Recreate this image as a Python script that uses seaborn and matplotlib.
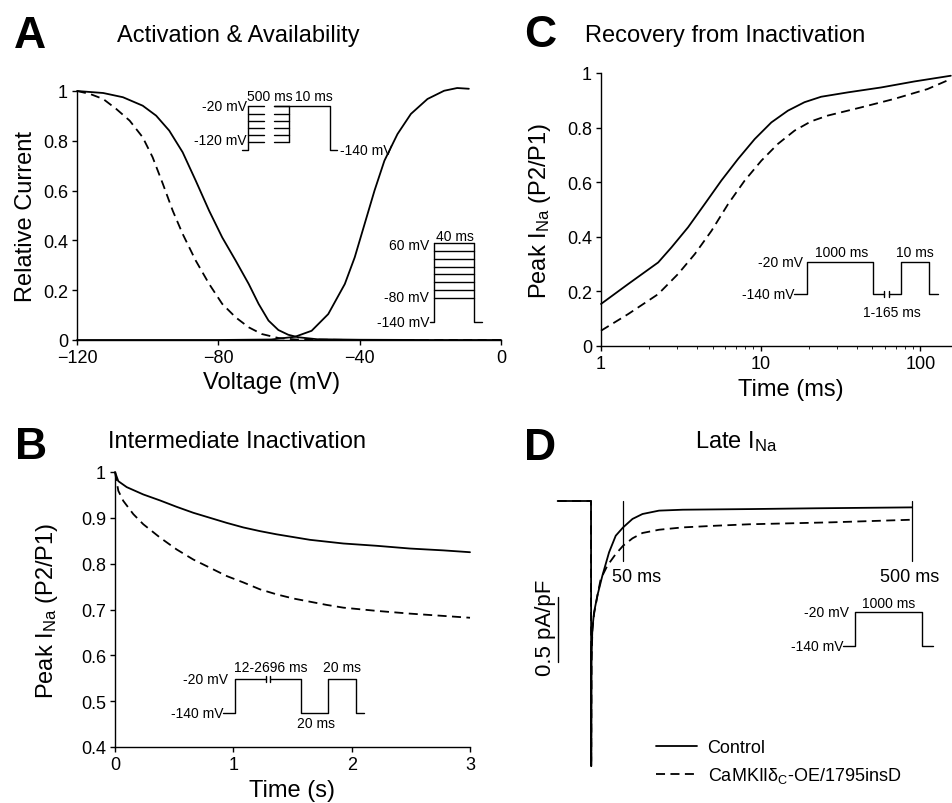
import matplotlib
matplotlib.use("Agg")
import numpy as np
import pandas as pd
import matplotlib.pyplot as plt
import seaborn as sns

sns.set_style("ticks")
plt.rcParams['font.family'] = ['Liberation Sans', 'DejaVu Sans']
plt.rcParams['mathtext.default'] = 'regular'
plt.rcParams.update({
    'axes.edgecolor': 'black', 'axes.linewidth': 1.0,
    'text.color': 'black', 'axes.labelcolor': 'black',
    'xtick.color': 'black', 'ytick.color': 'black',
    'xtick.major.size': 3.5, 'ytick.major.size': 3.5,
    'xtick.minor.size': 2.2, 'xtick.major.width': 1.0, 'ytick.major.width': 1.0,
    'xtick.major.pad': 3, 'ytick.major.pad': 3,
})

# ---- A: activation & availability (relative current vs voltage)
avail_ctrl_v = [-120, -112.6, -107, -101.4, -97.6, -93.9, -90.1, -86.4, -82.6, -78.9,
                -75.1, -71.4, -68.6, -65.8, -63, -60.2, -57.4, -52, -40, -20, 0]
avail_ctrl_i = [1.0, 0.992, 0.975, 0.941, 0.901, 0.841, 0.754, 0.640, 0.519, 0.412,
                0.319, 0.225, 0.145, 0.078, 0.040, 0.021, 0.011, 0.003, 0.001, 0.0, 0.0]
avail_camk_v = [-120, -116.3, -112.6, -108.9, -105.1, -101.4, -98.6, -95.7, -92.9, -90.1,
                -86.4, -82.6, -78.9, -75.1, -71.4, -67.7, -63, -58, -40, 0]
avail_camk_i = [1.0, 0.988, 0.968, 0.928, 0.881, 0.814, 0.734, 0.627, 0.519, 0.426,
                0.319, 0.225, 0.145, 0.091, 0.051, 0.024, 0.008, 0.002, 0.0, 0.0]
act_v = [-120, -80, -65, -58.3, -53.6, -48.9, -44.2, -41.4, -38.6, -35.8, -33.0,
         -29.3, -25.5, -20.8, -16.1, -12.4, -9.1]
act_i = [0, 0, 0.002, 0.013, 0.037, 0.104, 0.225, 0.332, 0.466, 0.600, 0.720,
         0.827, 0.908, 0.968, 1.001, 1.012, 1.009]

# ---- C: recovery from inactivation (log time, ms)
rec_t_ctrl = [1, 1.48, 2.28, 2.76, 3.51, 4.46, 5.67, 7.21, 9.17, 11.66, 14.8, 18.8,
              23.9, 35.1, 56.7, 91.6, 155]
rec_ctrl = [0.154, 0.227, 0.306, 0.361, 0.435, 0.520, 0.606, 0.685, 0.758, 0.819,
            0.862, 0.893, 0.913, 0.929, 0.947, 0.969, 0.990]
rec_t_camk = [1, 1.48, 2.28, 3.04, 3.87, 4.92, 6.25, 7.94, 10.1, 12.8, 16.3, 20.7,
              26.3, 42.5, 68.5, 110.6, 155]
rec_camk = [0.056, 0.117, 0.190, 0.264, 0.337, 0.422, 0.520, 0.606, 0.679, 0.740,
            0.789, 0.823, 0.844, 0.874, 0.905, 0.941, 0.978]

# ---- B: intermediate inactivation (time, s)
inter_t_ctrl = [0, 0.028, 0.099, 0.239, 0.380, 0.521, 0.662, 0.803, 0.944, 1.085,
                1.225, 1.366, 1.507, 1.648, 1.789, 1.930, 2.211, 2.493, 2.775, 3.0]
inter_ctrl = [1.0, 0.980, 0.967, 0.951, 0.938, 0.924, 0.911, 0.900, 0.889, 0.879,
              0.871, 0.864, 0.858, 0.852, 0.848, 0.844, 0.839, 0.833, 0.829, 0.825]
inter_t_camk = [0, 0.028, 0.07, 0.155, 0.239, 0.380, 0.521, 0.662, 0.803, 0.944, 1.085,
                1.225, 1.366, 1.507, 1.648, 1.789, 1.930, 2.211, 2.493, 2.775, 3.0]
inter_camk = [1.0, 0.959, 0.937, 0.908, 0.886, 0.857, 0.831, 0.809, 0.791, 0.773, 0.759,
              0.744, 0.733, 0.724, 0.717, 0.710, 0.704, 0.697, 0.691, 0.686, 0.682]

# ---- D: late INa trace (time ms, current pA/pF)
late_t_ctrl = [-52, 0, 0.3, 0.8, 2.1, 4.7, 9.9, 17.7, 28.1, 38.5, 50, 64.6, 80.2,
               106, 143, 250, 350, 500]
late_ctrl = [0, 0, -2.04, -1.2, -0.985, -0.857, -0.728, -0.574, -0.395, -0.267,
             -0.203, -0.138, -0.100, -0.074, -0.067, -0.062, -0.056, -0.049]
late_t_camk = [-52, 0, 0.3, 0.8, 2.1, 4.7, 9.9, 15.1, 25.5, 38.5, 50, 64.6, 80.2,
               106, 143, 195, 247, 375, 500]
late_camk = [0, 0, -2.04, -1.25, -1.0, -0.87, -0.73, -0.60, -0.497, -0.408, -0.344,
             -0.287, -0.246, -0.221, -0.203, -0.190, -0.179, -0.164, -0.144]
late_marks_ms = [50, 500]
scale_bar = 0.5  # pA/pF

# ---- voltage protocol sketches (schematic time units, mV)
protA1_family = [-20, -40, -60, -80, -100, -120]
protA2_family = [60, 40, 20, 0, -20, -40, -60, -80]
protB_t = [[0, 3.7, 3.7, 13.6], [14.8, 24.7, 24.7, 33.3, 33.3, 42.0, 42.0, 44.7]]
protB_v = [[-140, -140, -20, -20], [-20, -20, -140, -140, -20, -20, -140, -140]]
protC_t = [[0, 3.9, 3.9, 24.9, 24.9, 28.6], [30.1, 33.8, 33.8, 42.9, 42.9, 45.7]]
protC_v = [[-140, -140, -20, -20, -140, -140], [-140, -140, -20, -20, -140, -140]]
protD_t = [0, 3.7, 3.7, 24.9, 24.9, 28.4]
protD_v = [-140, -140, -20, -20, -140, -140]

W, H = 953, 804
U = 3.15  # px per schematic unit
fig = plt.figure(figsize=(W / 100, H / 100), dpi=100)


def px_axes(l, t, r, b):
    return fig.add_axes([l / W, 1 - b / H, (r - l) / W, (b - t) / H])


def curve(ax, x, y, dashed=False, **kw):
    ls = (0, (5, 3)) if dashed else '-'
    sns.lineplot(x=x, y=y, ax=ax, color='black', lw=1.3, linestyle=ls,
                 estimator=None, sort=False, clip_on=False, **kw)
    return ax.lines[-1]


def proto_axes(left, top, bot, units, vtop, vbot):
    a = px_axes(left, top, left + units * U, bot)
    a.set_xlim(0, units)
    a.set_ylim(vbot, vtop)
    a.axis('off')
    return a


def seg(a, x, y):
    a.plot(x, y, color='black', lw=1.0, clip_on=False)


TICK = 13
LAB = 17
INS = 10

# ================= A
axA = px_axes(77, 92, 501, 341)
curve(axA, avail_ctrl_v, avail_ctrl_i)
curve(axA, avail_camk_v, avail_camk_i, dashed=True)
curve(axA, act_v, act_i)
axA.set_xlim(-120, 0)
axA.set_ylim(0, 1)
axA.set_xticks([-120, -80, -40, 0])
axA.set_yticks([0, 0.2, 0.4, 0.6, 0.8, 1.0])
axA.set_yticklabels(['0', '0.2', '0.4', '0.6', '0.8', '1'])
axA.tick_params(labelsize=TICK)
axA.set_xlabel('Voltage (mV)', fontsize=LAB)
axA.set_ylabel('Relative Current', fontsize=LAB)
axA.xaxis.set_label_coords(0.46, -0.125)
axA.yaxis.set_label_coords(-0.095, 0.5)
sns.despine(ax=axA)

# availability protocol
pa = proto_axes(242, 107.3, 150.7, 30.1, -20, -140)
seg(pa, [0, 2, 2], [-140, -140, -20])
for v in protA1_family:
    seg(pa, [2, 7], [v, v])
    seg(pa, [10.2, 15], [v, v])
seg(pa, [15, 15], [protA1_family[-1], protA1_family[0]])
seg(pa, [10.2, 27.9, 27.9, 30.1], [-20, -20, -140, -140])
pa.text(1.6, -20, '-20 mV', ha='right', va='center', fontsize=INS)
pa.text(1.6, -113, '-120 mV', ha='right', va='center', fontsize=INS)
pa.text(8.9, 9, '500 ms', ha='center', va='center', fontsize=INS)
pa.text(22.9, 9, '10 ms', ha='center', va='center', fontsize=INS)
pa.text(31.1, -140, '-140 mV', ha='left', va='center', fontsize=INS)

# activation protocol
pb = proto_axes(430, 244, 322.7, 16.4, 60, -140)
seg(pb, [0, 1.4, 1.4], [-140, -140, 60])
for v in protA2_family:
    seg(pb, [1.4, 14.0], [v, v])
seg(pb, [14.0, 14.0, 16.4], [60, -140, -140])
pb.text(-0.2, 54, '60 mV', ha='right', va='center', fontsize=INS)
pb.text(-0.2, -78, '-80 mV', ha='right', va='center', fontsize=INS)
pb.text(-0.2, -140, '-140 mV', ha='right', va='center', fontsize=INS)
pb.text(8.0, 78, '40 ms', ha='center', va='center', fontsize=INS)

# ================= C
axC = px_axes(601, 74, 953, 347)
curve(axC, rec_t_ctrl, rec_ctrl)
curve(axC, rec_t_camk, rec_camk, dashed=True)
axC.set_xscale('log')
axC.set_xlim(1, 160)
axC.set_ylim(0, 1)
axC.set_xticks([1, 10, 100])
axC.set_xticklabels(['1', '10', '100'])
axC.set_yticks([0, 0.2, 0.4, 0.6, 0.8, 1.0])
axC.set_yticklabels(['0', '0.2', '0.4', '0.6', '0.8', '1'])
axC.tick_params(labelsize=TICK)
axC.set_xlabel('Time (ms)', fontsize=LAB)
axC.set_ylabel(r'Peak I$_{Na}$ (P2/P1)', fontsize=LAB)
axC.xaxis.set_label_coords(0.538, -0.118)
axC.yaxis.set_label_coords(-0.135, 0.5)
sns.despine(ax=axC)

pc = proto_axes(794.3, 263.3, 295, 45.7, -20, -140)
for tt, vv in zip(protC_t, protC_v):
    seg(pc, tt, vv)
seg(pc, [28.6, 28.6], [-152, -128])
seg(pc, [30.1, 30.1], [-152, -128])
pc.text(2.9, -20, '-20 mV', ha='right', va='center', fontsize=INS)
pc.text(0, -140, '-140 mV', ha='right', va='center', fontsize=INS)
pc.text(15.0, 18, '1000 ms', ha='center', va='center', fontsize=INS)
pc.text(38.3, 18, '10 ms', ha='center', va='center', fontsize=INS)
pc.text(30.9, -209, '1-165 ms', ha='center', va='center', fontsize=INS)

# ================= B
axB = px_axes(115, 473, 470, 748)
curve(axB, inter_t_ctrl, inter_ctrl)
curve(axB, inter_t_camk, inter_camk, dashed=True)
axB.set_xlim(0, 3)
axB.set_ylim(0.4, 1)
axB.set_xticks([0, 1, 2, 3])
axB.set_yticks([0.4, 0.5, 0.6, 0.7, 0.8, 0.9, 1.0])
axB.set_yticklabels(['0.4', '0.5', '0.6', '0.7', '0.8', '0.9', '1'])
axB.tick_params(labelsize=TICK)
axB.set_xlabel('Time (s)', fontsize=LAB)
axB.set_ylabel(r'Peak I$_{Na}$ (P2/P1)', fontsize=LAB)
axB.yaxis.set_label_coords(-0.155, 0.5)
sns.despine(ax=axB)

pB = proto_axes(223.3, 680, 713.7, 44.7, -20, -140)
for tt, vv in zip(protB_t, protB_v):
    seg(pB, tt, vv)
seg(pB, [13.6, 13.6], [-32, -8])
seg(pB, [14.8, 14.8], [-32, -8])
pB.text(1.6, -20, '-20 mV', ha='right', va='center', fontsize=INS)
pB.text(0, -140, '-140 mV', ha='right', va='center', fontsize=INS)
pB.text(15.1, 21, '12-2696 ms', ha='center', va='center', fontsize=INS)
pB.text(37.8, 21, '20 ms', ha='center', va='center', fontsize=INS)
pB.text(29.3, -178, '20 ms', ha='center', va='center', fontsize=INS)

# ================= D
axD = px_axes(552.5, 450, 950.5, 788)
h1 = curve(axD, late_t_ctrl, late_ctrl)
h2 = curve(axD, late_t_camk, late_camk, dashed=True)
axD.set_xlim(-60, 560)
axD.set_ylim(-2.2, 0.4)
axD.axis('off')
for m in late_marks_ms:
    axD.plot([m, m], [0, -0.46], color='black', lw=0.9)
axD.text(71, -0.58, '50 ms', ha='center', va='center', fontsize=TICK)
axD.text(497, -0.58, '500 ms', ha='center', va='center', fontsize=TICK)
axD.plot([-51.4, -51.4], [-0.74, -0.74 - scale_bar], color='black', lw=1.0)
axD.text(-71, -0.74 - scale_bar / 2 + 0.02, '0.5 pA/pF', rotation=90, ha='center',
         va='center', fontsize=16)
axD.legend([h1, h2], ['Control', r'CaMKII$\delta_C$-OE/1795insD'],
           loc='center left', bbox_to_anchor=(655.7 / W, 1 - 763.4 / H),
           bbox_transform=fig.transFigure, frameon=False, fontsize=TICK,
           handlelength=2.27, handletextpad=0.6, labelspacing=0.5,
           borderpad=0, borderaxespad=0)

pd_ = proto_axes(843.3, 613.3, 647.3, 28.4, -20, -140)
seg(pd_, protD_t, protD_v)
pd_.text(1.9, -20, '-20 mV', ha='right', va='center', fontsize=INS)
pd_.text(0, -140, '-140 mV', ha='right', va='center', fontsize=INS)
pd_.text(14.4, 14, '1000 ms', ha='center', va='center', fontsize=INS)

# ================= titles and panel letters
def ftxt(x, y, s, **kw):
    fig.text(x / W, 1 - y / H, s, **kw)


ftxt(30, 48, 'A', fontsize=32, fontweight='bold', ha='center', va='baseline')
ftxt(238, 41.7, 'Activation & Availability', fontsize=LAB, ha='center', va='baseline')
ftxt(540, 46.7, 'C', fontsize=32, fontweight='bold', ha='center', va='baseline')
ftxt(725.5, 41.7, 'Recovery from Inactivation', fontsize=LAB, ha='center', va='baseline')
ftxt(31, 459, 'B', fontsize=32, fontweight='bold', ha='center', va='baseline')
ftxt(237, 448.3, 'Intermediate Inactivation', fontsize=LAB, ha='center', va='baseline')
ftxt(540, 460, 'D', fontsize=32, fontweight='bold', ha='center', va='baseline')
ftxt(736, 448, r'Late I$_{Na}$', fontsize=LAB, ha='center', va='baseline')

fig.savefig('out.png', dpi=100)
